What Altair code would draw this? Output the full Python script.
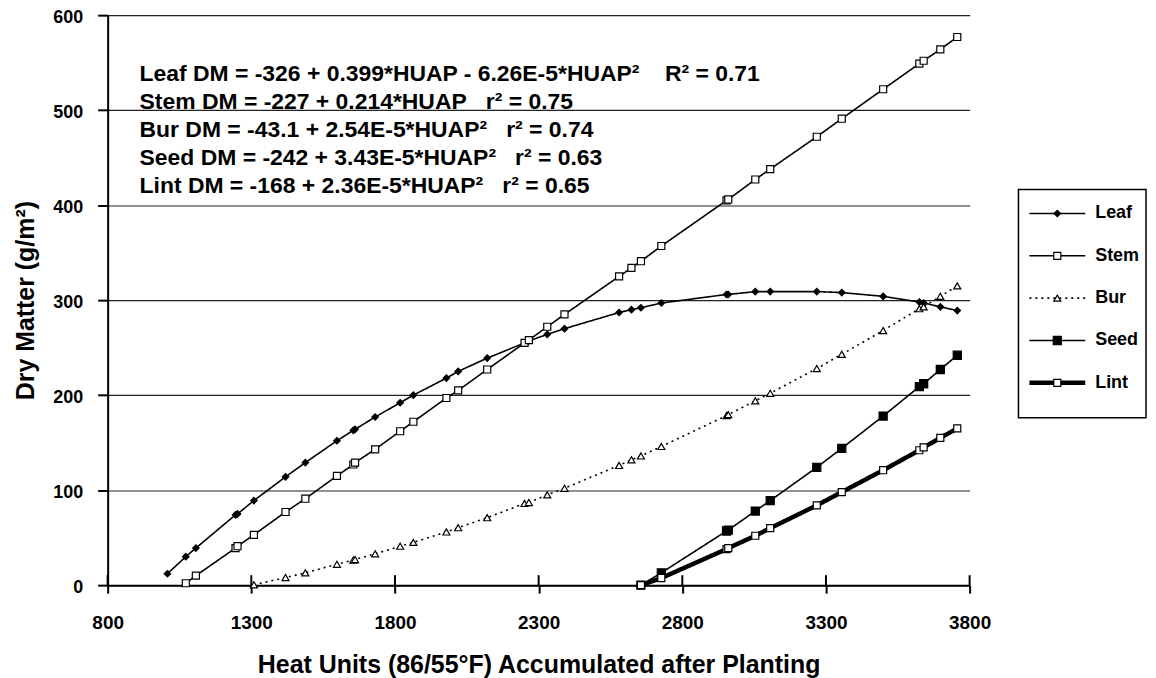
import altair as alt
import pandas as pd

# ---------------- data ----------------
huap = [1008, 1072, 1107, 1245, 1252, 1309, 1419, 1488, 1598, 1655, 1661, 1731,
        1818, 1864, 1979, 2020, 2121, 2251, 2266, 2330, 2390, 2580, 2623, 2656,
        2727, 2954, 2960, 3054, 3106, 3268, 3355, 3499, 3625, 3640, 3698, 3757]

leaf_dm = [12, 30, 39, 74, 75, 89, 114, 129, 152, 163, 164, 177, 192, 200, 218,
           225, 239, 255, 257, 264, 270, 287, 290, 292, 297, 306, 306, 309, 309,
           309, 308, 304, 298, 297, 293, 289]
stem_dm = [2, 10, 39, 41, 53, 77, 91, 115, 127, 129, 143, 162, 172, 197, 205,
           227, 255, 258, 272, 285, 325, 334, 341, 357, 405, 406, 427, 438, 472,
           491, 522, 549, 552, 564, 577]
bur_dm = [0.4, 8, 13, 22, 26.5, 27, 33, 41, 45, 56, 60.5, 71, 86, 87, 95, 102,
          126, 132, 136, 146, 178.5, 179.5, 194, 202, 228, 243, 268, 291, 293,
          304, 315]
seed_dm = [0, 13, 57, 58, 78, 89, 124, 144, 178, 209, 212, 227, 242]
lint_dm = [0, 7.5, 38, 39, 52, 60, 84, 98, 121, 142, 145, 155, 165]

leaf_x = huap
stem_x = huap[1:]
bur_x = huap[5:]
seed_x = huap[23:]
lint_x = huap[23:]

series_names = ["Leaf", "Stem", "Bur", "Seed", "Lint"]
x_ticks = [800, 1300, 1800, 2300, 2800, 3300, 3800]
y_ticks = [0, 100, 200, 300, 400, 500, 600]

NB = "\u00a0"
equations = [
    "Leaf DM = -326 + 0.399*HUAP - 6.26E-5*HUAP²" + NB * 4 + "R² = 0.71",
    "Stem DM = -227 + 0.214*HUAP" + NB * 3 + "r² = 0.75",
    "Bur DM = -43.1 + 2.54E-5*HUAP²" + NB * 3 + "r² = 0.74",
    "Seed DM = -242 + 3.43E-5*HUAP²" + NB * 3 + "r² = 0.63",
    "Lint DM = -168 + 2.36E-5*HUAP²" + NB * 3 + "r² = 0.65",
]

rows = []
for name, xs_, ys_ in [("Leaf", leaf_x, leaf_dm), ("Stem", stem_x, stem_dm),
                       ("Bur", bur_x, bur_dm), ("Seed", seed_x, seed_dm),
                       ("Lint", lint_x, lint_dm)]:
    for xv, yv in zip(xs_, ys_):
        rows.append({"series": name, "huap": xv, "dm": yv})
df = pd.DataFrame(rows)
tick_df = pd.DataFrame({"huap": x_ticks})

# ---------------- styles ----------------
FONT = "Liberation Sans"
dash_range = [[1, 0], [1, 0], [2, 4], [1, 0], [1, 0]]
shape_range = ["diamond", "square", "triangle-up", "square", "square"]
fill_range = ["black", "white", "white", "black", "white"]

xs = alt.Scale(domain=[800, 3800], nice=False, zero=False)
ys = alt.Scale(domain=[0, 600], nice=False, zero=True)

x_axis = alt.Axis(values=x_ticks, format="d", grid=False, labelFlush=False,
                  labelOverlap=False,
                  title="Heat Units (86/55°F) Accumulated after Planting",
                  tickSize=8, tickWidth=2, tickColor="black",
                  domainColor="black", domainWidth=2,
                  labelFont=FONT, labelFontSize=19, labelFontWeight="bold",
                  labelColor="black", labelPadding=21,
                  titleFont=FONT, titleFontSize=25, titleFontWeight="bold",
                  titleColor="black", titlePadding=20)
y_axis = alt.Axis(values=y_ticks, format="d", grid=True, gridColor="#222222",
                  gridWidth=1.2, title="Dry Matter (g/m²)", labelFlush=False,
                  labelOverlap=False, labelOffset=2,
                  tickSize=10, tickWidth=2, tickColor="black",
                  domainColor="black", domainWidth=2,
                  labelFont=FONT, labelFontSize=18, labelFontWeight="bold",
                  labelColor="black", labelPadding=15,
                  titleFont=FONT, titleFontSize=25, titleFontWeight="bold",
                  titleColor="black", titlePadding=14)

sd = alt.StrokeDash("series:N", scale=alt.Scale(domain=series_names, range=dash_range), legend=None)
sh = alt.Shape("series:N", scale=alt.Scale(domain=series_names, range=shape_range), legend=None)
fl = alt.Fill("series:N", scale=alt.Scale(domain=series_names, range=fill_range), legend=None)
sw = alt.when(alt.datum.series == "Lint").then(alt.value(4.5)).otherwise(alt.value(1.6))
sz = (alt.when(alt.datum.series == "Seed").then(alt.value(66))
      .when(alt.datum.series == "Leaf").then(alt.value(42))
      .otherwise(alt.value(50)))

X = alt.X("huap:Q", scale=xs, axis=x_axis)
Y = alt.Y("dm:Q", scale=ys, axis=y_axis)

lines = alt.Chart(df).mark_line(color="black").encode(
    x=X, y=Y, detail="series:N", strokeDash=sd, strokeWidth=sw, order="huap:Q")

points = alt.Chart(df).mark_point(filled=True, stroke="black", strokeWidth=1.2,
                                  opacity=1).encode(
    x=X, y=Y, shape=sh, fill=fl, size=sz)

inner_ticks = alt.Chart(tick_df).mark_rule(color="black", strokeWidth=2).encode(
    x=alt.X("huap:Q", scale=xs), y=alt.value(562), y2=alt.value(572))

annot = alt.Chart(pd.DataFrame({"a": [0]})).mark_text(
    text=equations, align="left", baseline="alphabetic", font=FONT,
    fontSize=23, fontWeight="bold", color="black", lineHeight=28).encode(
    x=alt.value(32), y=alt.value(66))

main = alt.layer(lines, points, inner_ticks, annot).properties(
    width=865, height=572, view=alt.ViewBackground(stroke="transparent"))

# ---------------- legend panel ----------------
leg_df = pd.DataFrame({"series": series_names})
ly = alt.Y("series:N", sort=series_names, axis=None,
           scale=alt.Scale(type="point", domain=series_names, range=[199, 369], padding=0))

frame = alt.Chart(pd.DataFrame({"a": [0]})).mark_rect(
    fill="white", stroke="black", strokeWidth=1.5).encode(
    x=alt.value(0), x2=alt.value(128), y=alt.value(175), y2=alt.value(404))

leg_lines = alt.Chart(leg_df).mark_rule(color="black").encode(
    x=alt.value(11), x2=alt.value(67), y=ly, strokeDash=sd, strokeWidth=sw)

leg_points = alt.Chart(leg_df).mark_point(filled=True, stroke="black",
                                          strokeWidth=1.2, opacity=1).encode(
    x=alt.value(39), y=ly, shape=sh, fill=fl, size=sz)

leg_text = alt.Chart(leg_df).mark_text(
    align="left", baseline="middle", font=FONT, fontSize=18,
    fontWeight="bold", color="black").encode(
    x=alt.value(77), y=ly, text="series:N")

legend = alt.layer(frame, leg_lines, leg_points, leg_text).properties(
    width=128, height=404, view=alt.ViewBackground(stroke="transparent"))

chart = alt.hconcat(main, legend, spacing=49, bounds="flush").properties(
    padding={"left": 5, "top": -2, "right": 0, "bottom": 0})

chart.save("out.html", embed_options={"renderer": "svg", "actions": False})
